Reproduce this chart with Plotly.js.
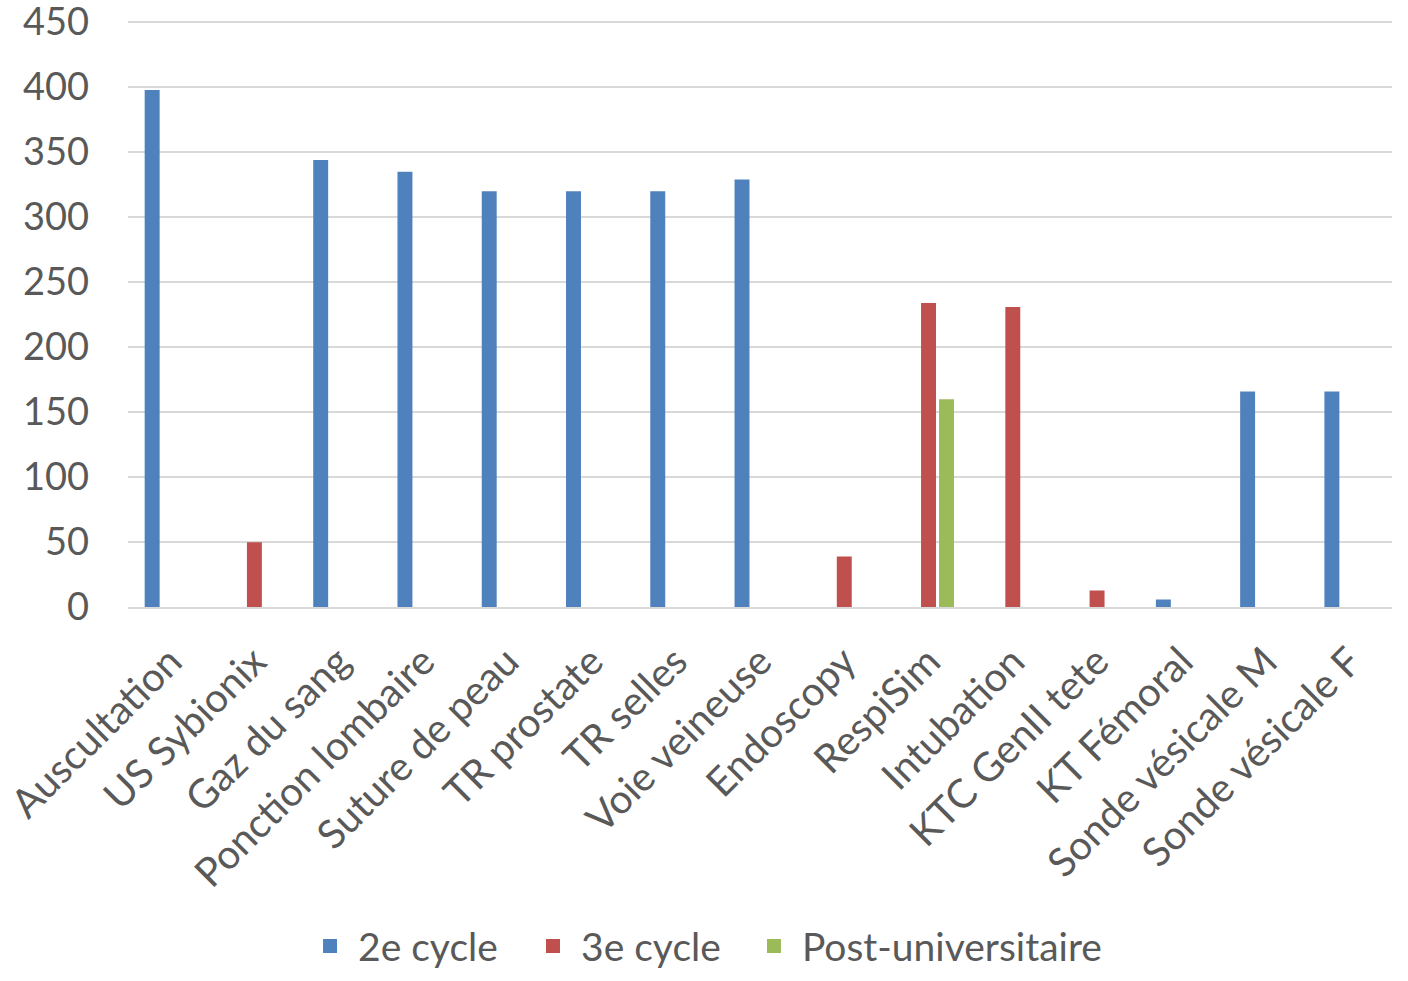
<!DOCTYPE html>
<html><head><meta charset="utf-8">
<script src="https://cdn.plot.ly/plotly-3.0.1.min.js"></script>
<style>html,body{margin:0;padding:0;background:#fff}#c{width:1408px;height:981px}</style>
</head><body><div id="c"></div>
<script>
const categories = ["Auscultation","US Sybionix","Gaz du sang","Ponction lombaire","Suture de peau","TR prostate","TR selles","Voie veineuse","Endoscopy","RespiSim","Intubation","KTC GenII tete","KT Fémoral","Sonde vésicale M","Sonde vésicale F"];
const cycle2 = [397, null, 343, 334, 319, 319, 319, 328, null, null, null, null, 5, 165, 165];
const cycle3 = [null, 49, null, null, null, null, null, null, 38, 233, 230, 12, null, null, null];
const postUniv = [null, null, null, null, null, null, null, null, null, 159, null, null, null, null, null];
const seriesNames = ["2e cycle", "3e cycle", "Post-universitaire"];
const yTicks = [0,50,100,150,200,250,300,350,400,450];

const colors = ["#4F81BD", "#C0504D", "#9BBB59"];
const font = "Lato, 'Open Sans', sans-serif";
const legendIds = ["legend", "legend2", "legend3"];
const legendX = [0.1377, 0.3141, 0.4889];
const data = [cycle2, cycle3, postUniv].map((v, i) => ({
  type: "bar", x: categories, y: v, name: seriesNames[i], legend: legendIds[i],
  marker: {color: colors[i], line: {color: colors[i], width: 2}}
}));
const layout = {
  width: 1408, height: 981,
  margin: {l: 128, r: 16, t: 12, b: 374, autoexpand: false},
  paper_bgcolor: "#fff", plot_bgcolor: "#fff",
  barmode: "group", bargap: 0.36, bargroupgap: 0.28,
  font: {family: font, color: "#595959", size: 38},
  xaxis: {tickangle: -45, showgrid: false, showline: true, linecolor: "#D9D9D9", linewidth: 2,
          automargin: false, tickfont: {size: 40, color: "#595959"}, ticklabelstandoff: 13},
  yaxis: {range: [0, 457.7], tickvals: yTicks, showgrid: true, gridcolor: "#D9D9D9", gridwidth: 2,
          automargin: false, zeroline: false, ticklabeloverflow: "allow",
          tickfont: {size: 38, color: "#595959"}, ticklabelstandoff: 38, fixedrange: true},
  showlegend: true
};
legendIds.forEach((id, i) => {
  layout[id] = {orientation: "h", x: legendX[i], xanchor: "left", y: -0.57, yanchor: "middle",
                font: {size: 39, color: "#595959"}, itemwidth: 46, bgcolor: "rgba(0,0,0,0)"};
});
Plotly.newPlot("c", data, layout, {staticPlot: true, displayModeBar: false});
</script>
</body></html>
